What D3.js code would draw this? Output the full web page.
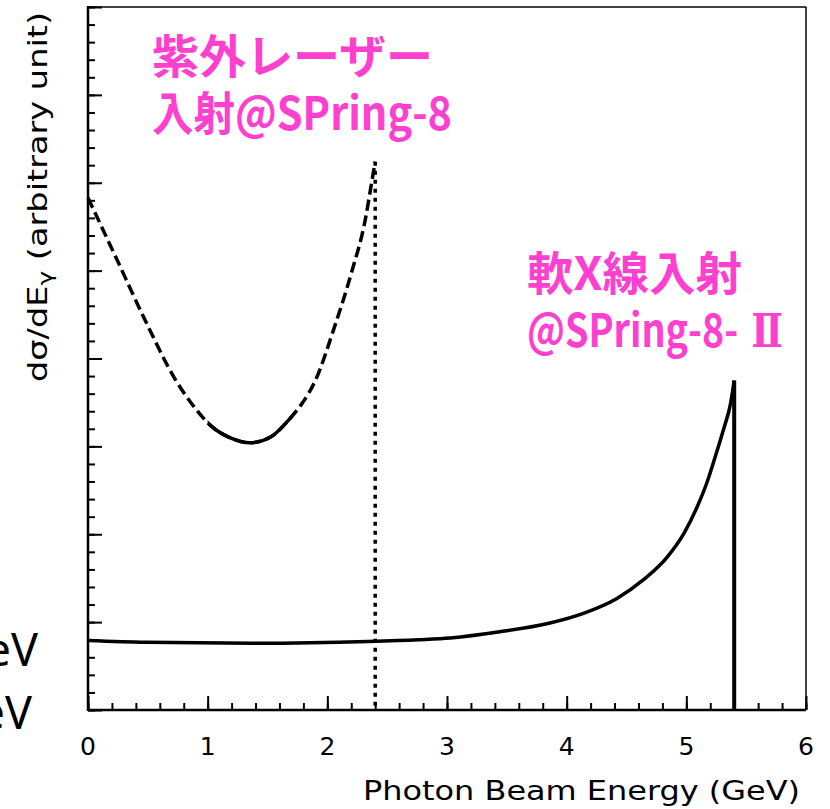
<!DOCTYPE html>
<html>
<head>
<meta charset="utf-8">
<script src="https://cdn.jsdelivr.net/npm/d3@7"></script>
<style>
  body { margin: 0; background: #fff; }
</style>
</head>
<body>
<svg id="chart" width="830" height="809"></svg>
<script>
// values (x: GeV, y: arbitrary unit)
let uvEnergy = [0, 0.23, 0.49, 0.73, 0.87, 1.03, 1.20, 1.35, 1.53, 1.67, 1.79, 1.90, 2.06, 2.20, 2.32, 2.37, 2.40]
let uvSigma  = [5.83, 5.16, 4.40, 3.76, 3.48, 3.23, 3.09, 3.04, 3.11, 3.29, 3.49, 3.75, 4.36, 4.97, 5.60, 6.00, 6.24]

let sxEnergy = [0, 0.48, 1.37, 2.34, 2.76, 3.03, 3.44, 3.86, 4.14, 4.42, 4.64, 4.84, 4.98, 5.09, 5.17, 5.25, 5.31, 5.37, 5.40]
let sxSigma  = [0.79, 0.77, 0.76, 0.78, 0.80, 0.82, 0.89, 0.99, 1.10, 1.27, 1.48, 1.74, 2.01, 2.31, 2.58, 2.92, 3.19, 3.49, 3.75]

let uvEdge = 2.40
let sxEdge = 5.40

let xTicks = [0, 1, 2, 3, 4, 5, 6]

let uvLabel = ["紫外レーザー", "入射@SPring-8"]
let sxLabel = ["軟X線入射", "@SPring-8-Ⅱ"]
let cutLabels = ["3.5 eV", "0 eV"]

let svg = d3.select("#chart")
let plotL = 88, plotR = 806, plotT = 7, plotB = 710

let x = d3.scaleLinear().domain([0, 6]).range([plotL, plotR])
let y = d3.scaleLinear().domain([0, 8]).range([plotB, plotT])

// minor ticks
svg.append("g")
  .attr("transform", "translate(0," + plotB + ")")
  .call(d3.axisTop(x).tickValues(d3.range(0, 6.01, 0.2)).tickSize(7).tickFormat(""))
svg.append("g")
  .attr("transform", "translate(" + plotL + ",0)")
  .call(d3.axisRight(y).tickValues(d3.range(0, 8.01, 0.2)).tickSize(7).tickFormat(""))
// major ticks
svg.append("g")
  .attr("transform", "translate(0," + plotB + ")")
  .call(d3.axisTop(x).tickValues(xTicks).tickSize(14).tickFormat(""))
svg.append("g")
  .attr("transform", "translate(" + plotL + ",0)")
  .call(d3.axisRight(y).tickValues(d3.range(0, 9)).tickSize(14).tickFormat(""))

svg.selectAll(".domain").remove()
svg.selectAll(".tick line").attr("stroke", "#000").attr("stroke-width", 2)

// tick labels
svg.append("g")
  .selectAll("text")
  .data(xTicks)
  .enter()
  .append("text")
  .attr("x", d => x(d))
  .attr("y", 755)
  .attr("text-anchor", "middle")
  .style("font-family", "DejaVu Sans, sans-serif")
  .style("font-size", "25px")
  .text(d => d)

// frame
svg.append("line").attr("x1", plotL).attr("x2", plotR).attr("y1", plotT).attr("y2", plotT)
  .attr("stroke", "#000").attr("stroke-width", 1.5)
svg.append("line").attr("x1", plotR).attr("x2", plotR).attr("y1", plotT).attr("y2", plotB)
  .attr("stroke", "#000").attr("stroke-width", 1.5)
svg.append("line").attr("x1", plotL).attr("x2", plotL).attr("y1", plotT - 1).attr("y2", plotB + 1)
  .attr("stroke", "#000").attr("stroke-width", 2.5)
svg.append("line").attr("x1", plotL).attr("x2", plotR).attr("y1", plotB).attr("y2", plotB)
  .attr("stroke", "#000").attr("stroke-width", 2.5)

let line = d3.line()
  .x(d => x(d[0]))
  .y(d => y(d[1]))
  .curve(d3.curveMonotoneX)

let uvData = d3.zip(uvEnergy, uvSigma)
let sxData = d3.zip(sxEnergy, sxSigma)

// UV laser curve: dashed, looks solid around the minimum
svg.append("path")
  .attr("d", line(uvData))
  .attr("fill", "none")
  .attr("stroke", "#000")
  .attr("stroke-width", 3.5)
  .attr("stroke-dasharray", "11,5")

svg.append("clipPath").attr("id", "mid")
  .append("rect")
  .attr("x", x(1.0)).attr("width", x(1.72) - x(1.0))
  .attr("y", plotT).attr("height", plotB - plotT)
svg.append("path")
  .attr("d", line(uvData))
  .attr("clip-path", "url(#mid)")
  .attr("fill", "none")
  .attr("stroke", "#000")
  .attr("stroke-width", 3.5)

// UV edge, dotted
svg.append("line")
  .attr("x1", x(uvEdge)).attr("x2", x(uvEdge))
  .attr("y1", y(uvSigma[uvSigma.length - 1])).attr("y2", y(0))
  .attr("stroke", "#000")
  .attr("stroke-width", 3.5)
  .attr("stroke-dasharray", "4,5")

// soft X-ray curve
svg.append("path")
  .attr("d", line(sxData))
  .attr("fill", "none")
  .attr("stroke", "#000")
  .attr("stroke-width", 3.5)

svg.append("line")
  .attr("x1", x(sxEdge)).attr("x2", x(sxEdge))
  .attr("y1", y(sxSigma[sxSigma.length - 1])).attr("y2", y(0))
  .attr("stroke", "#000")
  .attr("stroke-width", 4)

// axis titles
svg.append("text")
  .attr("x", 800)
  .attr("y", 800)
  .attr("text-anchor", "end")
  .attr("textLength", 437)
  .attr("lengthAdjust", "spacingAndGlyphs")
  .style("font-family", "DejaVu Sans, sans-serif")
  .style("font-size", "26px")
  .text("Photon Beam Energy (GeV)")

let yt = svg.append("text")
  .attr("transform", "translate(47,197) rotate(-90)")
  .attr("text-anchor", "middle")
  .attr("textLength", 370)
  .attr("lengthAdjust", "spacingAndGlyphs")
  .style("font-family", "DejaVu Sans, sans-serif")
  .style("font-size", "27px")
yt.append("tspan").text("dσ/dE")
yt.append("tspan").attr("baseline-shift", "-25%").style("font-size", "20px").text("γ")
yt.append("tspan").text(" (arbitrary unit)")

// pink labels
function pink(lines, widths, x0, y0, dy) {
  let t = svg.append("g")
    .selectAll("text")
    .data(lines)
    .enter()
    .append("text")
    .attr("x", x0)
    .attr("y", (d, i) => y0 + i * dy)
    .attr("textLength", (d, i) => widths[i])
    .attr("lengthAdjust", "spacingAndGlyphs")
    .attr("fill", "#ff40cf")
    .style("font-family", "Noto Sans CJK JP, sans-serif")
    .style("font-weight", "bold")
    .style("font-size", "46px")
  t.append("tspan").text(d => d.replace("Ⅱ", ""))
  // roman numeral drawn with serifs, as in the reference
  t.filter(d => d.indexOf("Ⅱ") >= 0)
    .append("tspan")
    .style("font-family", "DejaVu Serif, Liberation Serif, serif")
    .text(" Ⅱ")
}
pink(uvLabel, [281, 300], 152, 73, 57)
pink(sxLabel, [215, 256], 527, 290, 57)

// cut-off text at the left edge
svg.append("g")
  .selectAll("text")
  .data(cutLabels)
  .enter()
  .append("text")
  .attr("x", (d, i) => i ? 32 : 38)
  .attr("y", (d, i) => 666 + i * 63)
  .attr("text-anchor", "end")
  .style("font-family", "Noto Sans, sans-serif")
  .style("font-size", "45px")
  .text(d => d)
</script>
</body>
</html>
